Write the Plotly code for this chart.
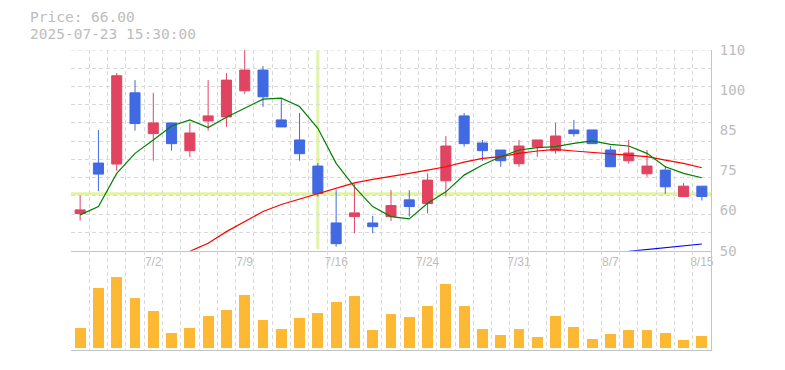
import plotly.graph_objects as go

# ---- data ----
open_ = [61.1, 76.2, 75.9, 97.2, 85.0, 88.2, 79.9, 88.8, 90.0, 97.8, 104.0, 89.1, 83.1, 75.3, 58.3,
         60.2, 58.3, 60.2, 65.2, 64.1, 70.9, 90.3, 82.2, 80.1, 76.0, 81.0, 79.9, 86.1, 86.1, 80.1,
         76.9, 73.0, 74.1, 66.2, 69.3]
close = [62.2, 72.9, 102.3, 88.0, 88.2, 82.0, 85.2, 90.3, 101.0, 104.0, 96.0, 87.0, 79.0, 67.1, 52.1,
         61.3, 57.2, 63.5, 63.2, 71.1, 81.3, 82.0, 79.9, 76.9, 81.3, 83.1, 84.3, 85.0, 82.0, 75.1,
         79.2, 75.3, 69.1, 69.3, 66.2]
high = [66.5, 86.1, 103.1, 101.0, 97.2, 88.2, 88.2, 101.0, 103.1, 110.0, 105.2, 95.3, 91.2, 76.2, 68.1,
        70.1, 60.4, 68.1, 68.1, 73.1, 84.3, 91.2, 83.1, 80.1, 83.1, 83.1, 88.2, 89.1, 86.1, 81.3,
        83.1, 80.1, 75.3, 70.3, 69.3]
low = [59.0, 67.8, 73.9, 85.9, 76.9, 79.9, 78.0, 85.9, 87.0, 96.9, 93.0, 87.0, 76.9, 66.1, 51.2,
       55.2, 55.2, 58.9, 60.2, 61.1, 66.2, 81.1, 76.9, 75.1, 75.1, 78.1, 79.0, 84.1, 82.0, 75.1,
       76.0, 72.1, 67.0, 66.2, 65.0]
volume = [20, 60, 71, 50, 37, 15, 20, 32, 38, 53, 28, 19, 30, 35, 46, 52, 18, 34, 31, 42, 64, 42,
          19, 13, 19, 11, 32, 21, 9, 14, 18, 18, 15, 8, 12]
ma_green = [60.7, 63.2, 73.1, 79.1, 83.1, 87.3, 89.1, 86.8, 89.9, 92.6, 95.3, 95.6, 93.1, 86.6, 76.1,
            69.1, 63.2, 60.2, 59.5, 64.2, 67.6, 72.6, 75.6, 78.1, 80.1, 80.8, 81.1, 82.1, 82.8, 81.8,
            81.3, 79.1, 75.1, 73.1, 71.8]
ma_red = [None] * 6 + [49.8, 52.2, 55.7, 58.7, 61.7, 63.8, 65.4, 67.1, 68.8, 70.3, 71.3, 72.1, 73.1,
                       74.1, 75.1, 76.5, 77.6, 78.1, 79.1, 79.8, 80.3, 79.8, 79.4, 79.1, 78.6, 78.1,
                       77.1, 76.1, 74.8]
ma_blue = [None] * 30 + [49.8, 50.4, 50.9, 51.4, 52.0]

tick_index = [4, 9, 14, 19, 24, 29, 34]
tick_labels = ["7/2", "7/9", "7/16", "7/24", "7/31", "8/7", "8/15"]
price_tickvals = [50, 62, 74, 86, 98, 110]
price_ticktext = ["50", "60", "75", "85", "100", "110"]
cross_index = 13
cross_price = 67.0
header_price = "Price: 66.00"
header_time = "2025-07-23 15:30:00"

x = list(range(len(open_)))
n = len(x)

RED = "#e04461"
BLUE = "#4169e1"
GRID = "#d9d9d9"
AXIS = "#c4c4c4"
TXT = "#bdbdbd"
CROSS = "#e2f3a6"

fig = go.Figure()
fig.add_trace(go.Candlestick(
    x=x, open=open_, high=high, low=low, close=close,
    increasing=dict(line=dict(color=RED, width=1), fillcolor=RED),
    decreasing=dict(line=dict(color=BLUE, width=1), fillcolor=BLUE),
    whiskerwidth=0, xaxis="x", yaxis="y", showlegend=False, hoverinfo="skip"))
fig.add_trace(go.Scatter(x=x, y=ma_red, mode="lines", line=dict(color="#ff0000", width=1.2),
                         xaxis="x", yaxis="y", showlegend=False, hoverinfo="skip"))
fig.add_trace(go.Scatter(x=x, y=ma_green, mode="lines", line=dict(color="#008000", width=1.2),
                         xaxis="x", yaxis="y", showlegend=False, hoverinfo="skip"))
fig.add_trace(go.Scatter(x=x, y=ma_blue, mode="lines", line=dict(color="#0000ff", width=1.2),
                         xaxis="x", yaxis="y", showlegend=False, hoverinfo="skip"))
fig.add_trace(go.Bar(x=x, y=volume, width=0.6, marker=dict(color="#fdb934", line=dict(width=0)),
                     xaxis="x2", yaxis="y2", showlegend=False, hoverinfo="skip"))

main_dom = [0.331, 1.0]
vol_dom = [0.0, 0.331]
minor_x = dict(tick0=-0.5, dtick=1, showgrid=True, gridcolor=GRID, griddash="4px,3px", gridwidth=1)

# the page body has an 8px margin, so the figure is laid out 8px up/left
fig.update_layout(
    width=785, height=370,
    margin=dict(l=63, r=82, t=42, b=28, autoexpand=False),
    paper_bgcolor="white", plot_bgcolor="white",
    boxgap=0.45, boxgroupgap=0,
    bargap=0,
    xaxis=dict(domain=[0, 1], range=[-0.5, n - 0.5], anchor="y", showgrid=False,
               tickmode="array", tickvals=tick_index, ticktext=tick_labels,
               tickfont=dict(family="Liberation Sans", size=12, color=TXT),
               showline=True, linecolor=AXIS, linewidth=1, ticks="", zeroline=False,
               rangeslider=dict(visible=False), minor=minor_x),
    yaxis=dict(domain=main_dom, range=[50, 110], side="right", anchor="x",
               tickmode="array", tickvals=price_tickvals, ticktext=price_ticktext,
               tickfont=dict(family="DejaVu Sans Mono", size=14, color=TXT),
               ticklabelstandoff=5,
               showgrid=False, showline=True, linecolor=AXIS, linewidth=1, zeroline=False,
               ticks="", minor=dict(tick0=50, dtick=60 / 11, showgrid=True, gridcolor=GRID,
                                    griddash="4px,3px", gridwidth=1)),
    xaxis2=dict(domain=[0, 1], range=[-0.5, n - 0.5], anchor="y2", matches="x",
                showticklabels=False, showgrid=False, showline=True, linecolor=AXIS,
                linewidth=1, ticks="", zeroline=False, minor=minor_x),
    yaxis2=dict(domain=vol_dom, range=[-2, 97.3], side="right", anchor="x2",
                showticklabels=False, showgrid=False, showline=True, linecolor=AXIS,
                linewidth=1, zeroline=False, ticks=""),
    shapes=[
        dict(type="line", xref="x domain", yref="y", x0=0, x1=1, y0=110, y1=110,
             line=dict(color=GRID, width=1, dash="4px,3px"), layer="below"),
        # crosshair, beneath the candles
        dict(type="line", xref="x", yref="y", x0=cross_index, x1=cross_index, y0=50.4, y1=109.7,
             line=dict(color=CROSS, width=3), layer="below"),
        dict(type="line", xref="x domain", yref="y", x0=0, x1=1, y0=cross_price, y1=cross_price,
             line=dict(color=CROSS, width=3), layer="below"),
    ],
    annotations=[
        dict(text=header_price, xref="paper", yref="paper", x=-0.0675, y=1.111,
             xanchor="left", yanchor="middle", showarrow=False,
             font=dict(family="DejaVu Sans Mono", size=14.5, color=TXT)),
        dict(text=header_time, xref="paper", yref="paper", x=-0.0675, y=1.0535,
             xanchor="left", yanchor="middle", showarrow=False,
             font=dict(family="DejaVu Sans Mono", size=14.5, color=TXT)),
    ],
)

fig.write_html("out.html", config={"displayModeBar": False})
